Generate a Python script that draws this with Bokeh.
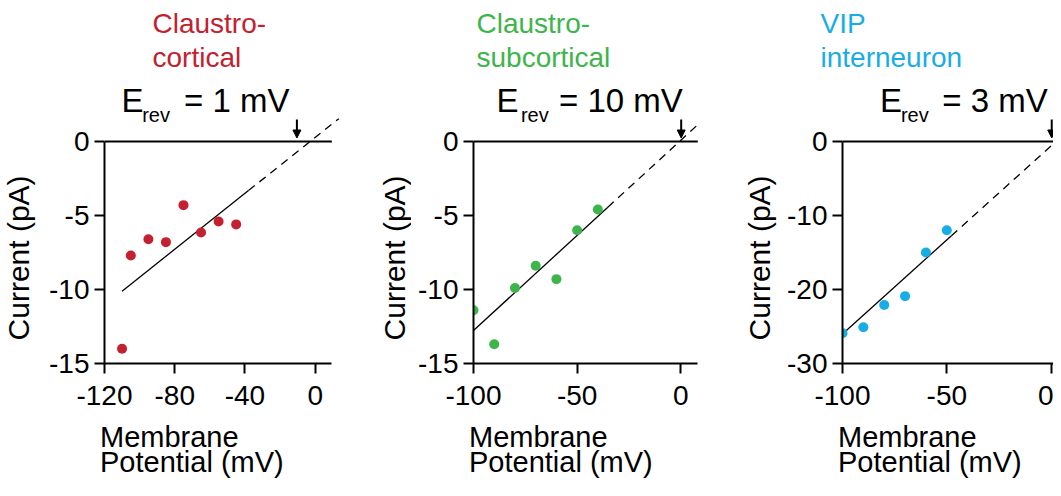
import numpy as np
from bokeh.plotting import figure
from bokeh.models import Range1d, FixedTicker, Arrow, NormalHead, PrintfTickFormatter
from bokeh.core.properties import value
from bokeh.layouts import row, column
from bokeh.embed import file_html
from bokeh.resources import INLINE

FONT = "Liberation Sans"
MID = 0.3465  # baseline offset of the vertical middle, in em (Liberation Sans)

# ---------------- data ----------------
titles = [["Claustro-", "cortical"], ["Claustro-", "subcortical"], ["VIP", "interneuron"]]
colors = ["#c5202f", "#3db54a", "#18ade6"]
erev_text = ["= 1 mV", "= 10 mV", "= 3 mV"]

cc_v = [-110, -105, -95, -85, -75, -65, -55, -45]
cc_i = [-14.0, -7.7, -6.6, -6.8, -4.3, -6.15, -5.4, -5.6]
cs_v = [-100, -90, -80, -70, -60, -50, -40]
cs_i = [-11.4, -13.7, -9.9, -8.4, -9.3, -6.0, -4.6]
vip_v = [-100, -90, -80, -70, -60, -50]
vip_i = [-25.9, -25.1, -22.1, -20.9, -15.0, -12.0]
series_v = [cc_v, cs_v, vip_v]
series_i = [cc_i, cs_i, vip_i]

fit_slope = [0.0944, 0.1285, 0.254]
fit_icpt = [0.27, 0.08, -0.6]
fit_solid = [(-110, -38), (-100, -35.2), (-100, -47.8)]
fit_dash_end = [13.5, 8.8, 2.5]
arrow_mv = [-10.4, 0.2, 0.3]

x_ticks = [[-120, -80, -40, 0], [-100, -50, 0], [-100, -50, 0]]
y_ticks = [[-15, -10, -5, 0], [-15, -10, -5, 0], [-30, -20, -10, 0]]
x_ranges = [(-120, 15), (-100, 10), (-100, 1.15)]
y_ranges = [(-15, 3.986), (-15, 3.986), (-30, 7.97)]
x_axis_end = [9.5, 8.2, 1.15]

# ---------------- layout (pixels) ----------------
TOTAL_W = 1053
TOP_H = 82          # title band
MID_H = 338         # plots band
BOT_H = 60          # x-label band
FRAME_H = 281
main_specs = [
    dict(left=40, W=312, bl=64, br=11),
    dict(left=411, W=301, bl=62, br=11),
    dict(left=780, W=273, bl=62, br=0),
]
label_cols = [(0, 40), (352, 411), (712, 780)]
title_left = [152, 476, 820]
title_base = [33, 67]
E_left = [121, 496, 879.5]
rev_left = [141.7, 520.4, 900.4]
eq_left = [183.5, 558.5, 941.8]
cur_base = [28, 404.7, 769.7]
cur_center = 262 + 31   # rotated text is drawn ~31px above its anchor
mem_base = [447, 472]


def text_fig(x0, x1, y0, y1):
    f = figure(width=int(x1 - x0), height=int(y1 - y0),
               x_range=Range1d(x0, x1), y_range=Range1d(-y1, -y0),
               output_backend="svg", toolbar_location=None, title=None,
               x_axis_location=None, y_axis_location=None,
               min_border=0, min_border_left=0, min_border_right=0,
               min_border_top=0, min_border_bottom=0)
    f.outline_line_color = None
    f.grid.visible = False
    return f


def put_text(f, x, y, t, size, color="black", angle=0.0, align="left"):
    f.text(x=[x], y=[y], text=[t], text_font=value(FONT), text_font_size=value(f"{size}px"),
           text_color=color, text_baseline="middle", text_align=align, angle=angle)


# top band with the coloured cell-type titles
top = text_fig(0, TOTAL_W, 0, TOP_H)
for k in range(3):
    for j, t in enumerate(titles[k]):
        put_text(top, title_left[k], -(title_base[j] - MID * 28), t, 28, colors[k])

# bottom band with the x-axis labels
bot = text_fig(0, TOTAL_W, TOP_H + MID_H, TOP_H + MID_H + BOT_H)

mid = []
for k in range(3):
    S = main_specs[k]
    fl = S["left"] + S["bl"]
    fw = S["W"] - S["bl"] - S["br"]
    xr, yr = x_ranges[k], y_ranges[k]

    def cx(ix, fl=fl, fw=fw, xr=xr):
        return xr[0] + (ix - fl) / fw * (xr[1] - xr[0])

    def cy(iy, yr=yr):
        return yr[1] - (iy - TOP_H) / FRAME_H * (yr[1] - yr[0])

    # left band with the rotated y label
    lc = label_cols[k]
    lf = text_fig(lc[0], lc[1], TOP_H, TOP_H + MID_H)
    put_text(lf, cur_base[k] - MID * 30, -cur_center, "Current (pA)", 30, angle=np.pi / 2,
             align="center")
    mid.append(lf)

    p = figure(width=S["W"], height=MID_H, title=None,
               x_range=Range1d(*xr), y_range=Range1d(*yr),
               output_backend="svg", toolbar_location=None,
               min_border_left=S["bl"], min_border_right=S["br"],
               min_border_top=0, min_border_bottom=MID_H - FRAME_H)
    p.outline_line_color = None
    p.grid.visible = False

    for ax in (p.xaxis[0], p.yaxis[0]):
        ax.axis_line_width = 2
        ax.major_tick_line_width = 2
        ax.major_tick_out = 10
        ax.major_tick_in = 0
        ax.minor_tick_line_color = None
        ax.major_label_text_font = FONT
        ax.major_label_text_font_size = "28px"
        ax.major_label_text_color = "black"
        ax.formatter = PrintfTickFormatter(format="%d")
    p.xaxis.ticker = FixedTicker(ticks=x_ticks[k])
    p.yaxis.ticker = FixedTicker(ticks=y_ticks[k])
    p.xaxis.bounds = (xr[0], x_axis_end[k])
    p.yaxis.bounds = (yr[0], 0)
    p.xaxis.major_label_standoff = 12
    p.yaxis.major_label_standoff = 5

    # zero current line
    p.line([xr[0], x_axis_end[k]], [0, 0], line_color="black", line_width=2)

    # fit line (solid) and extrapolation (dashed)
    xs = np.array(fit_solid[k], dtype=float)
    p.line(xs, fit_slope[k] * xs + fit_icpt[k], line_color="black", line_width=1.3)
    xd = np.array([fit_solid[k][1], fit_dash_end[k]])
    p.line(xd, fit_slope[k] * xd + fit_icpt[k], line_color="black", line_width=1.3,
           line_dash="8 6")

    p.scatter(series_v[k], series_i[k], size=10, fill_color=colors[k], line_color=None)

    p.add_layout(Arrow(end=NormalHead(size=8, fill_color="black", line_color="black",
                                      line_width=1),
                       x_start=arrow_mv[k], y_start=cy(119), x_end=arrow_mv[k],
                       y_end=cy(137.5), line_width=2, line_color="black"))

    # E_rev annotation
    put_text(p, cx(E_left[k]), cy(111.7 - MID * 33), "E", 33)
    put_text(p, cx(rev_left[k]), cy(121.7 - MID * 20), "rev", 20)
    put_text(p, cx(eq_left[k]), cy(111.7 - MID * 33), erev_text[k], 33)
    mid.append(p)

    # x label, two left-aligned lines
    put_text(bot, fl - 4.5, -(mem_base[0] - MID * 29), "Membrane", 29)
    put_text(bot, fl - 4.5, -(mem_base[1] - MID * 29), "Potential (mV)", 29)

page = column(top, row(*mid, spacing=0), bot, spacing=0)
open("out.html", "w").write(file_html(page, INLINE))
